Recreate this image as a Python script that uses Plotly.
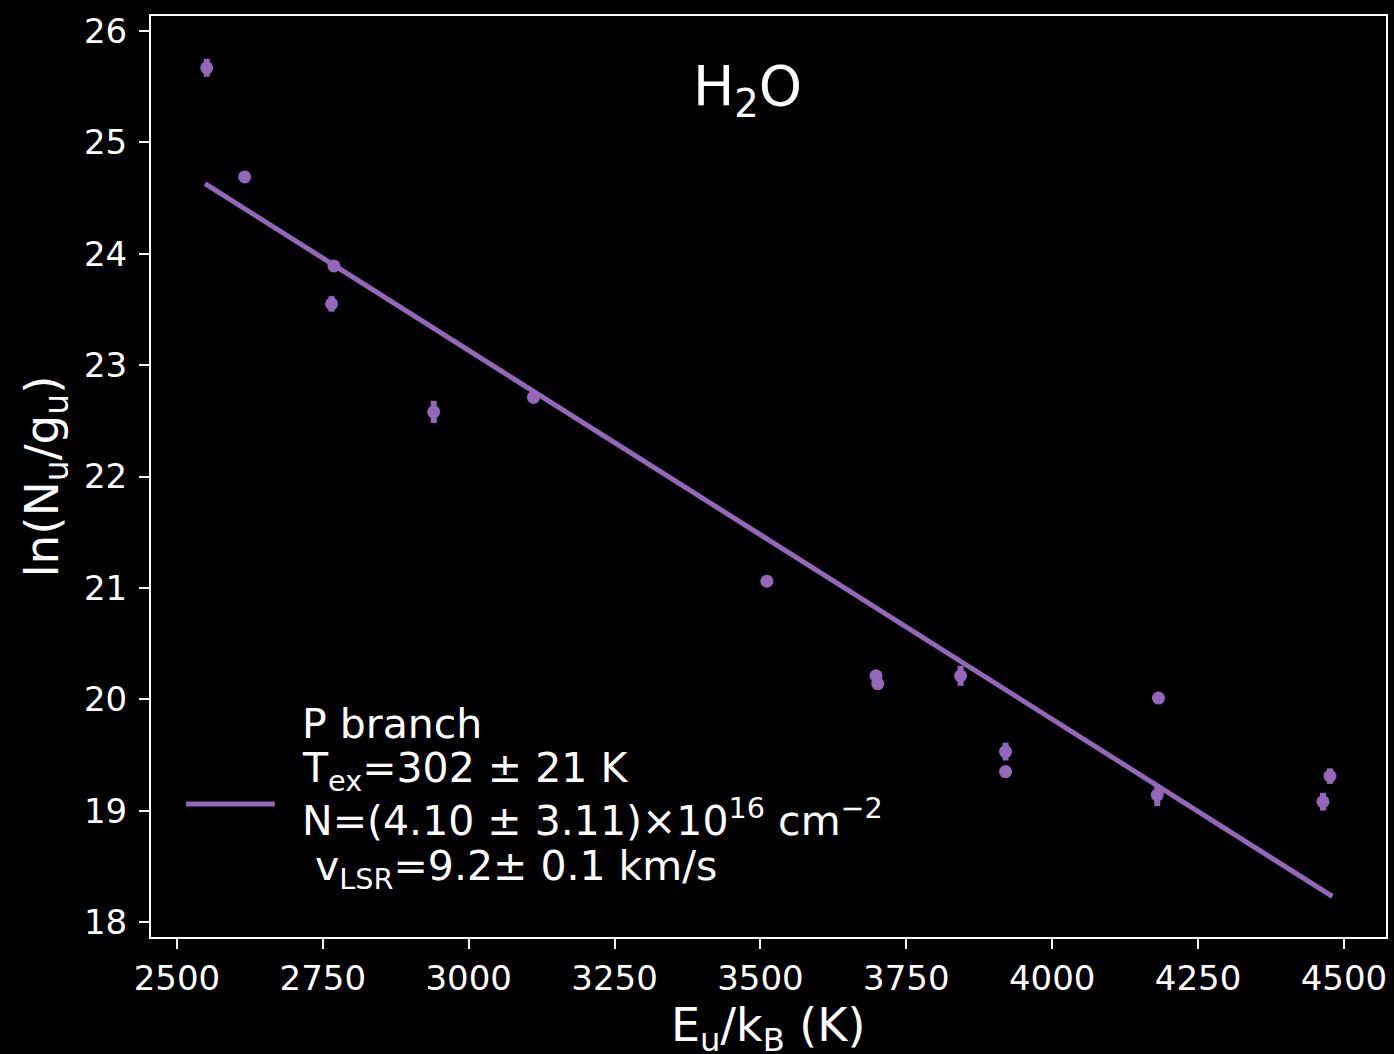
import plotly.graph_objects as go

# Data
energy_K = [2551, 2616, 2769, 2765, 2940, 3111, 3511, 3698, 3701, 3843, 3920, 3920, 4182, 4180, 4464, 4476]
ln_N_g = [25.67, 24.69, 23.89, 23.55, 22.58, 22.71, 21.06, 20.21, 20.14, 20.21, 19.53, 19.35, 20.01, 19.14, 19.08, 19.31]
ln_err = [0.08, 0.03, 0.04, 0.07, 0.10, 0.04, 0.04, 0.05, 0.04, 0.09, 0.08, 0.04, 0.04, 0.10, 0.08, 0.07]

fit_x = [2548, 4480]
fit_y = [24.63, 18.23]

x_ticks = [2500, 2750, 3000, 3250, 3500, 3750, 4000, 4250, 4500]
y_ticks = [18, 19, 20, 21, 22, 23, 24, 25, 26]

legend_lines = [
    "P branch",
    "T<sub>ex</sub>=302 ± 21 K",
    "N=(4.10 ± 3.11)×10<sup>16</sup> cm<sup>−2</sup>",
    " v<sub>LSR</sub>=9.2± 0.1 km/s",
]

purple = "#9467bd"
font_family = "DejaVu Sans, sans-serif"

fig = go.Figure()
fig.add_trace(go.Scatter(
    x=energy_K, y=ln_N_g, mode="markers",
    marker=dict(color=purple, size=13),
    error_y=dict(type="data", array=ln_err, color=purple, thickness=6, width=0),
    showlegend=False,
))
fig.add_trace(go.Scatter(
    x=fit_x, y=fit_y, mode="lines",
    line=dict(color=purple, width=5),
    name="P branch", showlegend=False,
))

axis_common = dict(
    showline=True, linecolor="white", linewidth=2, mirror=True,
    ticks="outside", tickcolor="white", ticklen=10, tickwidth=2,
    showgrid=False, zeroline=False,
    tickfont=dict(size=34, color="white", family=font_family),
)

legend_y = [0.231, 0.180, 0.129, 0.074]
annotations = [
    dict(text="H<sub>2</sub>O", x=0.483, y=0.92, xref="paper", yref="paper",
         xanchor="center", yanchor="middle", showarrow=False,
         font=dict(size=55, color="white", family=font_family)),
    dict(text="E<sub>u</sub>/k<sub>B</sub> (K)", x=0.4992, y=-0.0645, xref="paper", yref="paper",
         xanchor="center", yanchor="top", showarrow=False,
         font=dict(size=46, color="white", family=font_family)),
]
for txt, yy in zip(legend_lines, legend_y):
    annotations.append(dict(text=txt, x=0.121, y=yy, xref="paper", yref="paper",
                            xanchor="left", yanchor="middle", align="left", showarrow=False,
                            font=dict(size=41, color="white", family=font_family)))

fig.update_layout(
    width=1394, height=1054,
    paper_bgcolor="black", plot_bgcolor="black",
    margin=dict(l=151, r=6, t=16, b=117),
    font=dict(family=font_family, color="white"),
    xaxis=dict(range=[2455.5, 4572], tickvals=x_ticks, ticktext=[str(v) for v in x_ticks],
               **axis_common),
    yaxis=dict(range=[17.865, 26.135], tickvals=y_ticks, ticktext=[str(v) for v in y_ticks],
               ticklabelstandoff=5,
               title=dict(text="ln(N<sub>u</sub>/g<sub>u</sub>)", font=dict(size=47, color="white"), standoff=10),
               **axis_common),
    shapes=[dict(type="line", xref="paper", yref="paper", x0=0.0283, x1=0.1002, y0=0.1444, y1=0.1444,
                 line=dict(color=purple, width=5))],
    annotations=annotations,
)

fig.write_html("out.html", config={"displayModeBar": False},
               post_script="document.body.style.margin='0';document.body.style.background='black';")
